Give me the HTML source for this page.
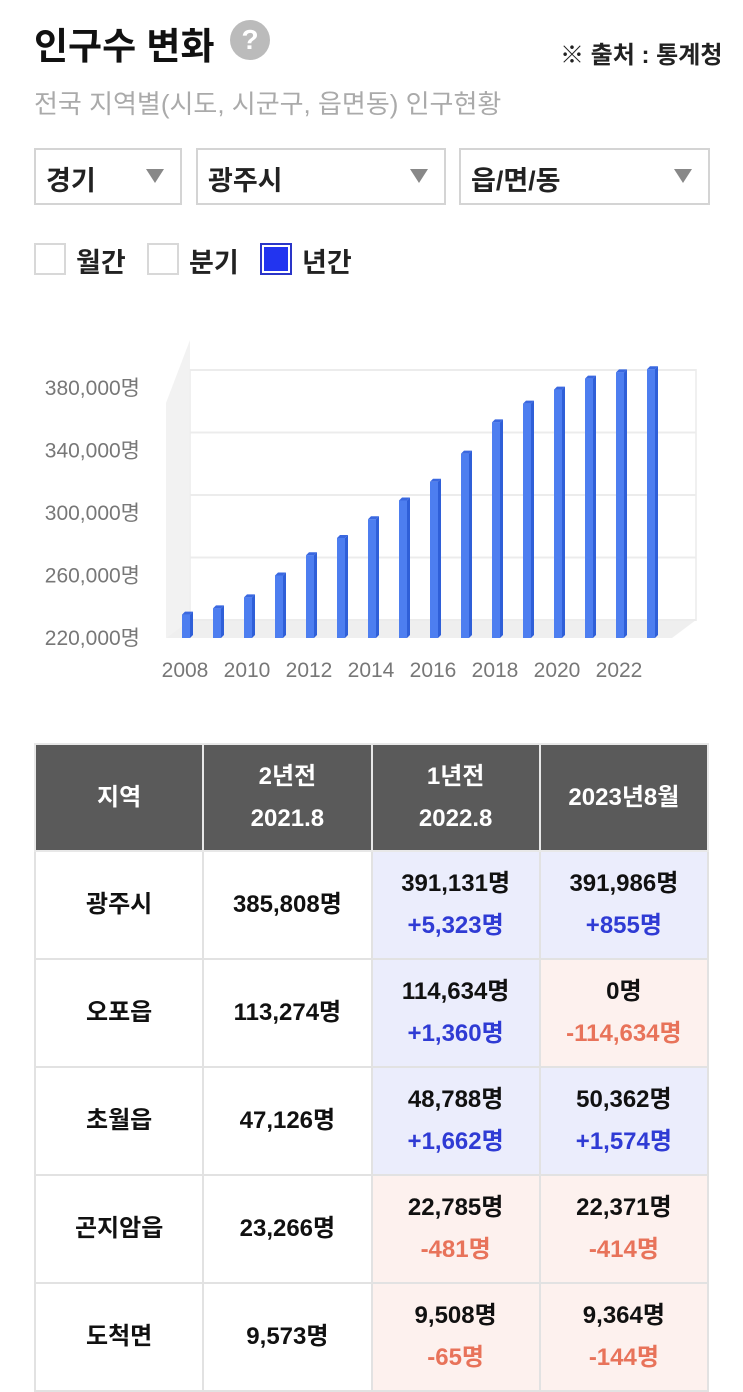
<!DOCTYPE html>
<html><head><meta charset="utf-8">
<style>
*{box-sizing:border-box;margin:0;padding:0}
body{width:743px;height:1372px;overflow:hidden;background:#fff;font-family:"Liberation Sans","Noto Sans CJK KR",sans-serif;position:relative}
.abs{position:absolute}
.sel{position:absolute;top:148px;height:57px;border:2px solid #d4d4d4;font-size:27px;font-weight:bold;color:#222;padding:9px 0 0 10px}
.sel .arr{position:absolute;right:16px;top:19px;width:0;height:0;border-left:9px solid transparent;border-right:9px solid transparent;border-top:14px solid #888}
.cb{position:absolute;top:243px;width:32px;height:32px;border:2px solid #d8d8d8}
.cbl{position:absolute;top:241px;font-size:27px;font-weight:bold;color:#222}
table{position:absolute;left:34px;top:743px;width:675px;border-collapse:collapse;table-layout:fixed}
td,th{border:2px solid #e2e2e2;text-align:center;font-size:24px;font-weight:bold;color:#111;line-height:42px}
th{background:#5a5a5a;color:#fff;height:107px;border-color:#e8e8e8}
td{height:108px}
.b{background:#ebedfc}.r{background:#fdf1ee}
.pb{color:#2f3bd4}.pr{color:#e8735a}
</style></head><body>
<div class="abs" style="left:34px;top:16px;font-size:37px;font-weight:bold;color:#111">인구수 변화</div>
<div class="abs" style="left:230px;top:20px;width:40px;height:40px;border-radius:50%;background:#bbb;color:#fff;font-size:28px;font-weight:bold;text-align:center;line-height:40px">?</div>
<div class="abs" style="left:560px;top:35px;font-size:24px;font-weight:bold;color:#222">※ 출처 : 통계청</div>
<div class="abs" style="left:34px;top:84px;font-size:26px;color:#aaa">전국 지역별(시도, 시군구, 읍면동) 인구현황</div>
<div class="sel" style="left:34px;width:148px">경기<span class="arr"></span></div>
<div class="sel" style="left:196px;width:250px">광주시<span class="arr"></span></div>
<div class="sel" style="left:459px;width:251px">읍/면/동<span class="arr"></span></div>
<div class="cb" style="left:34px"></div>
<div class="cbl" style="left:76px">월간</div>
<div class="cb" style="left:147px"></div>
<div class="cbl" style="left:189px">분기</div>
<div class="cb" style="left:260px;border:2px solid #2a35c8;background:#2234f0;box-shadow:inset 0 0 0 2px #fff"></div>
<div class="cbl" style="left:302px">년간</div>

<svg id="chart" class="abs" style="left:0;top:300px" width="743" height="400" viewBox="0 300 743 400"></svg>

<table>
<tr><th>지역</th><th>2년전<br>2021.8</th><th>1년전<br>2022.8</th><th>2023년8월</th></tr>
<tr><td>광주시</td><td>385,808명</td><td class="b">391,131명<br><span class="pb">+5,323명</span></td><td class="b">391,986명<br><span class="pb">+855명</span></td></tr>
<tr><td>오포읍</td><td>113,274명</td><td class="b">114,634명<br><span class="pb">+1,360명</span></td><td class="r">0명<br><span class="pr">-114,634명</span></td></tr>
<tr><td>초월읍</td><td>47,126명</td><td class="b">48,788명<br><span class="pb">+1,662명</span></td><td class="b">50,362명<br><span class="pb">+1,574명</span></td></tr>
<tr><td>곤지암읍</td><td>23,266명</td><td class="r">22,785명<br><span class="pr">-481명</span></td><td class="r">22,371명<br><span class="pr">-414명</span></td></tr>
<tr><td>도척면</td><td>9,573명</td><td class="r">9,508명<br><span class="pr">-65명</span></td><td class="r">9,364명<br><span class="pr">-144명</span></td></tr>
</table>

<script>
const years=[2008,2009,2010,2011,2012,2013,2014,2015,2016,2017,2018,2019,2020,2021,2022,2023];
const population=[235000,239000,246000,260000,273000,284000,296000,308000,320000,338000,358000,370000,379000,386000,390000,392000];
const yTicks=[220000,260000,300000,340000,380000];
const xLabels=[2008,2010,2012,2014,2016,2018,2020,2022];
const svg=document.getElementById('chart');
const NS='http://www.w3.org/2000/svg';
const DX=24,DY=-18,yMin=220000,yMax=380000;
function y(v){return 638-(v-yMin)*250/(yMax-yMin);}
function x(i){return 186+(465/(years.length-1))*i;}
function mk(t,a){const e=document.createElementNS(NS,t);for(const k in a)e.setAttribute(k,a[k]);svg.appendChild(e);return e;}
let w=mk('polygon',{points:`166,${y(yMax)+15} 190,${y(yMax)+DY-30} 190,${y(yMin)+DY} 166,${y(yMin)}`,fill:'#f2f2f2'});

let fl=mk('polygon',{points:`166,${y(yMin)} 190,${y(yMin)+DY} 696,${y(yMin)+DY} 672,${y(yMin)}`,fill:'#efefef'});

let bk=mk('rect',{x:190,y:y(yMax)+DY,width:506,height:y(yMin)-y(yMax),fill:'none',stroke:'#f0f0f0','stroke-width':2});

yTicks.forEach(v=>{
  const g=mk('line',{x1:190,x2:696,y1:y(v)+DY,y2:y(v)+DY,stroke:'#ececec','stroke-width':2});
  
  const t=mk('text',{x:140,y:y(v)+7,'text-anchor':'end','font-size':21,fill:'#777','font-family':'Liberation Sans,Noto Sans CJK KR,sans-serif'});
  t.textContent=v.toLocaleString('en-US')+'명';
  
});
years.forEach((yr,i)=>{
  const cx=x(i),top=y(population[i]),bw=8,sd=3;
  const g=document.createElementNS(NS,'g');svg.appendChild(g);
  
  const f=document.createElementNS(NS,'rect');
  f.setAttribute('x',cx-bw/2);f.setAttribute('y',top);f.setAttribute('width',bw);f.setAttribute('height',638-top);f.setAttribute('fill','#4d7ef0');g.appendChild(f);
  const s=document.createElementNS(NS,'polygon');
  s.setAttribute('points',`${cx+bw/2},${top} ${cx+bw/2+sd},${top-sd} ${cx+bw/2+sd},${638-sd} ${cx+bw/2},638`);s.setAttribute('fill','#2f5fd8');g.appendChild(s);
  const tp=document.createElementNS(NS,'polygon');
  tp.setAttribute('points',`${cx-bw/2},${top} ${cx-bw/2+sd},${top-sd} ${cx+bw/2+sd},${top-sd} ${cx+bw/2},${top}`);tp.setAttribute('fill','#3a68e0');g.appendChild(tp);
});
xLabels.forEach(yr=>{
  const i=years.indexOf(yr);
  const t=mk('text',{x:x(i)-1,y:677,'text-anchor':'middle','font-size':21,fill:'#777','font-family':'Liberation Sans,sans-serif'});
  t.textContent=yr;
  
});
</script>
</body></html>
